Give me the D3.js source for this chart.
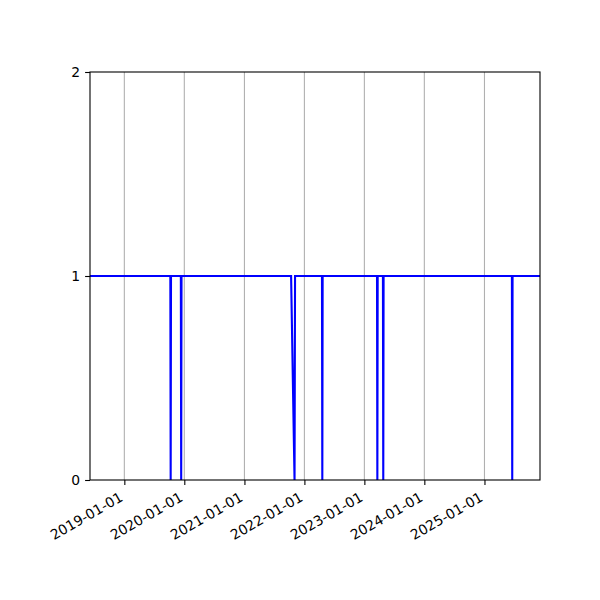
<!DOCTYPE html>
<html>
<head>
<meta charset="utf-8">
<script src="https://cdn.jsdelivr.net/npm/d3@7"></script>
<style>
  html, body { margin: 0; padding: 0; background: #fff; }
  svg { display: block; }
  text { font-family: "DejaVu Sans", sans-serif; }
</style>
</head>
<body>
<svg id="chart" width="600" height="600"></svg>
<script>
// ---- data ----
const dates = [
  "2018-06-06",
  "2019-10-08", "2019-10-10", "2019-10-12",
  "2019-12-11", "2019-12-13", "2019-12-15",
  "2021-10-12", "2021-11-02", "2021-11-05",
  "2022-04-18", "2022-04-20", "2022-04-22",
  "2023-03-19", "2023-03-21", "2023-03-23",
  "2023-04-24", "2023-04-26", "2023-04-28",
  "2025-06-17", "2025-06-19", "2025-06-21",
  "2025-12-05"
];
const values = [
  1,
  1, 0, 1,
  1, 0, 1,
  1, 0, 1,
  1, 0, 1,
  1, 0, 1,
  1, 0, 1,
  1, 0, 1,
  1
];
const xTickDates = ["2019-01-01", "2020-01-01", "2021-01-01", "2022-01-01", "2023-01-01", "2024-01-01", "2025-01-01"];
const yTicks = [0, 1, 2];
const xDomain = ["2018-06-06", "2025-12-05"];
const yDomain = [0, 2];

// ---- layout ----
const margin = { left: 90, right: 60, top: 72, bottom: 120 };
const W = 600, H = 600;
const iw = W - margin.left - margin.right;
const ih = H - margin.top - margin.bottom;

const parse = d3.utcParse("%Y-%m-%d");
const fmt = d3.utcFormat("%Y-%m-%d");
const data = dates.map((d, i) => ({ date: parse(d), value: values[i] }));

const x = d3.scaleUtc().domain(xDomain.map(parse)).range([0, iw]);
const y = d3.scaleLinear().domain(yDomain).range([ih, 0]);

const svg = d3.select("#chart");
svg.append("rect").attr("width", W).attr("height", H).attr("fill", "#fff");

svg.append("defs").append("clipPath").attr("id", "clip")
  .append("rect").attr("width", iw).attr("height", ih);

const g = svg.append("g").attr("transform", `translate(${margin.left},${margin.top})`);

// grid (vertical only)
g.append("g").selectAll("line").data(xTickDates.map(parse)).join("line")
  .attr("x1", d => x(d)).attr("x2", d => x(d))
  .attr("y1", 0).attr("y2", ih)
  .attr("stroke", "#b0b0b0").attr("stroke-width", 1.1);

// line
const line = d3.line().x(d => x(d.date)).y(d => y(d.value));
g.append("path").datum(data)
  .attr("clip-path", "url(#clip)")
  .attr("d", line)
  .attr("fill", "none")
  .attr("stroke", "#0000ff")
  .attr("stroke-width", 2.1)
  .attr("stroke-linejoin", "miter");

// x axis
const xAxis = d3.axisBottom(x)
  .tickValues(xTickDates.map(parse))
  .tickFormat(fmt)
  .tickSize(4.9)
  .tickSizeOuter(0);
const xg = g.append("g").attr("transform", `translate(0,${ih})`).call(xAxis);
xg.select(".domain").remove();
xg.selectAll(".tick line").attr("stroke", "#000").attr("stroke-width", 1.1);
xg.selectAll(".tick text")
  .attr("x", 0).attr("y", 0).attr("dy", null)
  .attr("transform", "translate(-1,20) rotate(-30)")
  .attr("text-anchor", "end")
  .attr("fill", "#000")
  .style("font-size", "13.9px")
  .style("font-family", "'DejaVu Sans', sans-serif");

// y axis
const yAxis = d3.axisLeft(y).tickValues(yTicks).tickFormat(d3.format("d"))
  .tickSize(4.9).tickSizeOuter(0).tickPadding(4.9);
const yg = g.append("g").call(yAxis);
yg.select(".domain").remove();
yg.selectAll(".tick line").attr("stroke", "#000").attr("stroke-width", 1.1);
yg.selectAll(".tick text")
  .attr("fill", "#000")
  .style("font-size", "13.9px")
  .style("font-family", "'DejaVu Sans', sans-serif");

// frame (spines)
g.append("rect").attr("width", iw).attr("height", ih)
  .attr("fill", "none").attr("stroke", "#000").attr("stroke-width", 1.1);
</script>
</body>
</html>
